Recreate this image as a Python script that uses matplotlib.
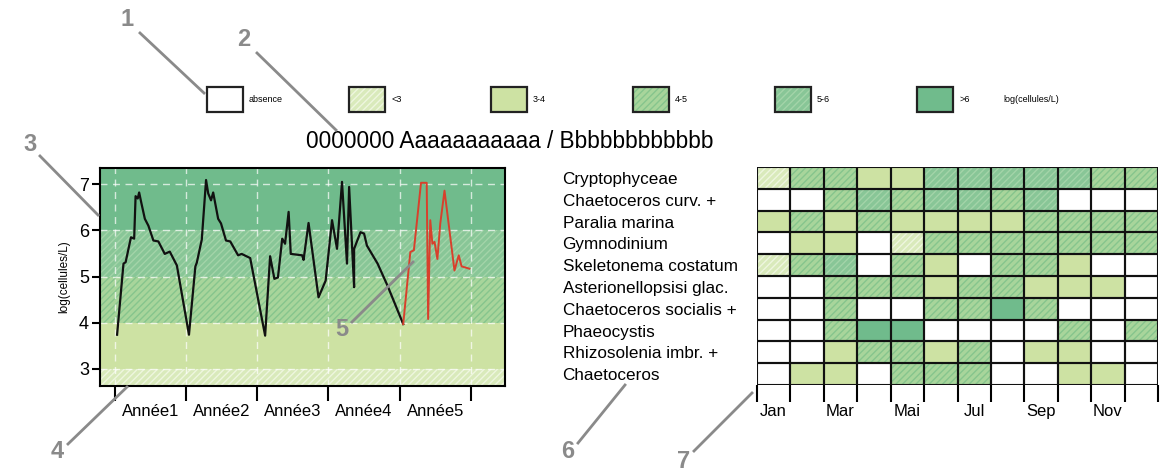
import numpy as np
import matplotlib
matplotlib.use("Agg")
import matplotlib.pyplot as plt
from matplotlib.lines import Line2D

plt.rcParams['font.family'] = ['Liberation Sans', 'DejaVu Sans']
plt.rcParams['hatch.linewidth'] = 1.0

# abundance classes
class_labels = ["absence", "<3", "3-4", "4-5", "5-6", ">6"]
class_lo = [None, 2.6, 3, 4, 5, 6]
class_hi = [None, 3, 4, 5, 6, 7.4]

# time series (years, log cells/L)
black_x = [0.03, 0.12, 0.15, 0.225, 0.27, 0.29, 0.32, 0.34, 0.37, 0.42, 0.47, 0.54, 0.61,
           0.70, 0.77, 0.87, 1.04, 1.13, 1.15, 1.22, 1.28, 1.31, 1.35, 1.38, 1.45, 1.49,
           1.56, 1.62, 1.73, 1.78, 1.90, 2.11, 2.18, 2.24, 2.29, 2.35, 2.39, 2.44, 2.47,
           2.63, 2.65, 2.72, 2.86, 2.96, 3.05, 3.12, 3.19, 3.26, 3.29, 3.36, 3.36, 3.45,
           3.50, 3.54, 3.69, 3.83, 4.05]
black_y = [3.74, 5.28, 5.31, 5.85, 5.82, 6.74, 6.69, 6.82, 6.6, 6.25, 6.1, 5.78, 5.76,
           5.49, 5.54, 5.24, 3.74, 5.22, 5.3, 5.8, 7.09, 6.8, 6.65, 6.82, 6.25, 6.15,
           5.78, 5.76, 5.46, 5.49, 5.40, 3.72, 5.44, 4.95, 4.98, 5.82, 5.71, 6.4, 5.49,
           5.46, 5.36, 6.16, 4.55, 4.91, 6.22, 5.6, 7.05, 5.28, 6.94, 4.77, 5.6, 5.96,
           5.93, 5.67, 5.28, 4.8, 3.97]
red_x = [4.05, 4.15, 4.20, 4.30, 4.38, 4.40, 4.43, 4.46, 4.49, 4.53, 4.57, 4.63, 4.77,
         4.83, 4.87, 4.98]
red_y = [3.97, 5.53, 5.57, 7.03, 7.03, 4.08, 6.22, 5.71, 5.75, 5.38, 6.14, 6.86, 5.13,
         5.46, 5.22, 5.17]
years = ["Année1", "Année2", "Année3", "Année4", "Année5"]

# heatmap
species = ["Cryptophyceae", "Chaetoceros curv. +", "Paralia marina", "Gymnodinium",
           "Skeletonema costatum", "Asterionellopsisi glac.", "Chaetoceros socialis +",
           "Phaeocystis", "Rhizosolenia imbr. +", "Chaetoceros"]
months = ["Jan", "", "Mar", "", "Mai", "", "Jul", "", "Sep", "", "Nov", ""]
levels = np.array([
    [1, 3, 3, 2, 2, 4, 4, 4, 4, 4, 3, 3],
    [0, 0, 3, 4, 3, 4, 4, 3, 4, 0, 0, 0],
    [2, 3, 2, 3, 2, 2, 2, 2, 3, 3, 3, 3],
    [0, 2, 2, 0, 1, 3, 3, 3, 3, 3, 3, 3],
    [1, 3, 4, 0, 3, 2, 0, 3, 3, 2, 0, 0],
    [0, 0, 3, 3, 3, 2, 3, 3, 2, 2, 2, 0],
    [0, 0, 3, 0, 0, 3, 3, 5, 3, 0, 0, 0],
    [0, 0, 3, 5, 5, 0, 0, 0, 0, 3, 0, 3],
    [0, 0, 2, 3, 3, 2, 3, 0, 2, 2, 0, 0],
    [0, 2, 2, 0, 3, 3, 3, 0, 0, 2, 2, 0],
])

# styles per class
face = ["white", "#d9eabb", "#cde2a3", "#a8d59b", "#88c697", "#70bb8c"]
hatch_col = ["white", "#eef6df", "#cde2a3", "#86c58d", "#a3d4a8", "#70bb8c"]
hatches = [None, "/////", None, "/////", "/////", None]
grey = "#8a8a8a"

W, H = 1160, 472
fig = plt.figure(figsize=(W / 100, H / 100), dpi=100)


def fx(px):
    return px / W


def fy(py):
    return 1 - py / H


# ---- legend ----
ax_leg = fig.add_axes([fx(207), fy(112), fx(955 - 207), 25 / H])
ax_leg.set_xlim(0, 748 / 142)
ax_leg.set_ylim(0, 1)
ax_leg.axis("off")
bw = 36 / 142
for i, lab in enumerate(class_labels):
    ax_leg.bar(i, 1, width=bw, align="edge", color=face[i], edgecolor=hatch_col[i],
               hatch=hatches[i], linewidth=0)
    ax_leg.bar(i, 1, width=bw, align="edge", fill=False, edgecolor="#222222",
               linewidth=1.6, clip_on=False)
    ax_leg.text(i + bw + 6 / 142, 0.5, lab, fontsize=6.5, va="center", ha="left")
ax_leg.text(5 + bw + 50 / 142, 0.5, "log(cellules/L)", fontsize=6.5, va="center", ha="left")

fig.text(fx(510), fy(142), "0000000 Aaaaaaaaaaa / Bbbbbbbbbbbb", fontsize=16.3,
         ha="center", va="center")

# ---- time series ----
ax = fig.add_axes([fx(100), fy(386), fx(405), 218 / H])
ax.set_xlim(-0.21, 5.48)
ax.set_ylim(2.63, 7.35)
for i in range(1, 6):
    ax.axhspan(class_lo[i], class_hi[i], facecolor=face[i], edgecolor=hatch_col[i],
               hatch=hatches[i], linewidth=0, zorder=0)
for yv in [3, 4, 5, 6, 7]:
    ax.axhline(yv, color="white", lw=1, ls=(0, (5, 4)), alpha=0.7, zorder=1)
for xv in range(6):
    ax.axvline(xv, color="white", lw=1, ls=(0, (5, 4)), alpha=0.7, zorder=1)
ax.plot(black_x, black_y, color="#111111", lw=1.6, zorder=3)
ax.plot(red_x, red_y, color="#d8402c", lw=1.4, zorder=3)
ax.set_yticks([3, 4, 5, 6, 7])
ax.set_xticks(range(6))
ax.set_xticklabels([])
ax.set_xticks(np.arange(5) + 0.5, minor=True)
ax.set_xticklabels(years, minor=True, fontsize=12)
ax.tick_params(axis="x", which="major", length=11, width=1.5)
ax.tick_params(axis="x", which="minor", length=0, pad=13)
ax.tick_params(axis="y", length=6, width=1.5, labelsize=13, pad=2)
ax.set_ylabel("log(cellules/L)", fontsize=8.5, labelpad=6)
for s in ax.spines.values():
    s.set_linewidth(1.5)

# ---- heatmap ----
axh = fig.add_axes([fx(757), fy(385), fx(401), 218 / H])
nrow, ncol = levels.shape
for k in range(6):
    r, c = np.nonzero(levels == k)
    if len(r) == 0:
        continue
    axh.bar(c, 1, bottom=r, width=1, align="edge", color=face[k],
            edgecolor=hatch_col[k], hatch=hatches[k], linewidth=0)
rr, cc = np.indices(levels.shape)
axh.bar(cc.ravel(), 1, bottom=rr.ravel(), width=1, align="edge", fill=False,
        edgecolor="#111111", linewidth=1.5)
axh.set_xlim(0, ncol)
axh.set_ylim(nrow, 0)
for s in axh.spines.values():
    s.set_visible(False)
axh.set_xticks(range(ncol + 1))
axh.set_xticklabels([])
axh.set_xticks(np.arange(ncol) + 0.5, minor=True)
axh.set_xticklabels(months, minor=True, fontsize=12)
axh.tick_params(axis="x", which="major", length=12, width=1.5)
axh.tick_params(axis="x", which="minor", length=0, pad=14)
axh.set_yticks(np.arange(nrow) + 0.5)
axh.set_yticklabels(species, fontsize=12.3, ha="left")
axh.tick_params(axis="y", length=0, pad=140)

# ---- numbered call-outs ----
callouts = [("1", 127, 20, 140, 33, 204, 93),
            ("2", 244, 40, 257, 53, 336, 130),
            ("3", 30, 144, 40, 156, 98, 215),
            ("4", 57, 452, 68, 444, 127, 387),
            ("5", 342, 330, 352, 322, 413, 262),
            ("6", 568, 452, 578, 443, 625, 385),
            ("7", 684, 462, 694, 451, 752, 393)]
for num, tx, ty, x0, y0, x1, y1 in callouts:
    fig.text(fx(tx), fy(ty), num, fontsize=17, fontweight="bold", color=grey,
             ha="center", va="center", zorder=10)
    fig.add_artist(Line2D([fx(x0), fx(x1)], [fy(y0), fy(y1)], color=grey, lw=2,
                          zorder=10))

fig.savefig("out.png", dpi=100)
